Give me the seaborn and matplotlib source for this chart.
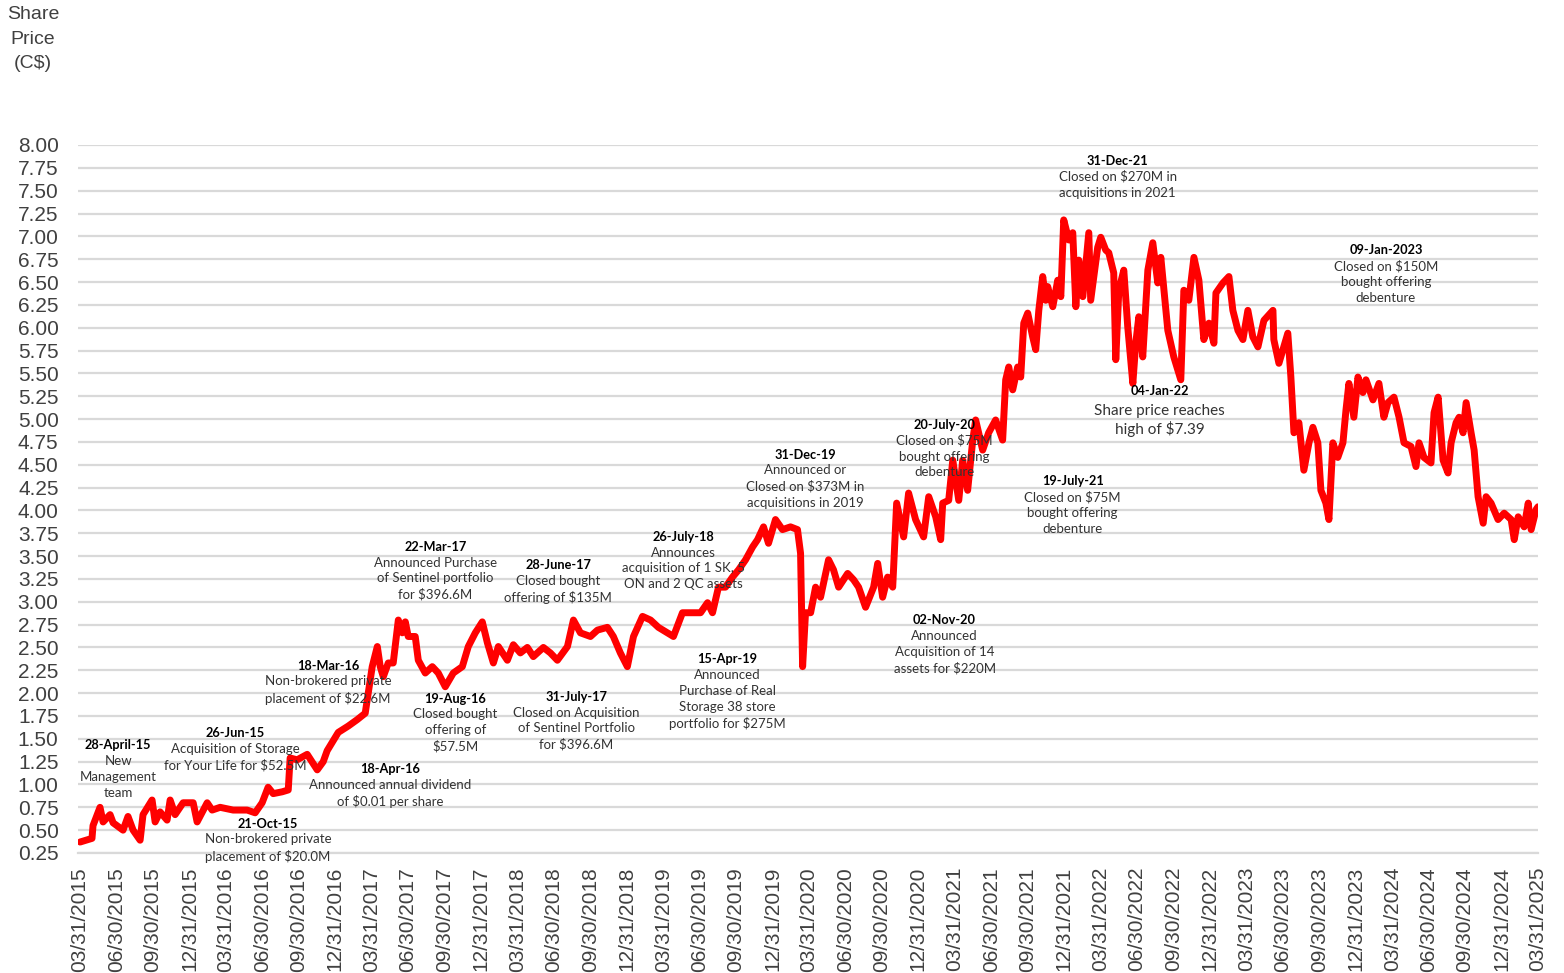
import numpy as np
import pandas as pd
import matplotlib
matplotlib.use("Agg")
import matplotlib.pyplot as plt
import seaborn as sns

# Share price (decimal year, C$)
years = [2015.250, 2015.332, 2015.339, 2015.387, 2015.408, 2015.456, 2015.477, 2015.545, 2015.579, 2015.614,
         2015.662, 2015.682, 2015.744, 2015.765, 2015.799, 2015.847, 2015.868, 2015.902, 2015.957, 2016.026,
         2016.053, 2016.122, 2016.156, 2016.211, 2016.300, 2016.396, 2016.451, 2016.499, 2016.540, 2016.575,
         2016.637, 2016.678, 2016.691, 2016.739, 2016.808, 2016.877, 2016.918, 2016.945, 2017.021, 2017.090,
         2017.151, 2017.206, 2017.227, 2017.254, 2017.289, 2017.309, 2017.330, 2017.364, 2017.398, 2017.433,
         2017.460, 2017.481, 2017.501, 2017.549, 2017.570, 2017.618, 2017.666, 2017.707, 2017.755, 2017.810,
         2017.872, 2017.913, 2017.961, 2018.009, 2018.044, 2018.085, 2018.119, 2018.181, 2018.222, 2018.270,
         2018.318, 2018.359, 2018.428, 2018.476, 2018.524, 2018.593, 2018.634, 2018.682, 2018.751, 2018.799,
         2018.867, 2018.908, 2018.956, 2019.004, 2019.046, 2019.108, 2019.163, 2019.217, 2019.279, 2019.320,
         2019.382, 2019.437, 2019.506, 2019.554, 2019.588, 2019.629, 2019.677, 2019.725, 2019.767, 2019.815,
         2019.863, 2019.897, 2019.938, 2019.972, 2020.020, 2020.068, 2020.123, 2020.171, 2020.192, 2020.206,
         2020.226, 2020.261, 2020.295, 2020.329, 2020.384, 2020.418, 2020.453, 2020.515, 2020.556, 2020.590,
         2020.638, 2020.693, 2020.721, 2020.755, 2020.789, 2020.824, 2020.851, 2020.899, 2020.933, 2020.981,
         2021.036, 2021.071, 2021.119, 2021.153, 2021.167, 2021.208, 2021.236, 2021.277, 2021.304, 2021.338,
         2021.373, 2021.393, 2021.441, 2021.482, 2021.530, 2021.578, 2021.599, 2021.620, 2021.647, 2021.681,
         2021.702, 2021.723, 2021.750, 2021.784, 2021.805, 2021.826, 2021.853, 2021.874, 2021.887, 2021.922,
         2021.956, 2021.977, 2021.997, 2022.032, 2022.059, 2022.080, 2022.100, 2022.128, 2022.169, 2022.182,
         2022.230, 2022.251, 2022.285, 2022.306, 2022.340, 2022.354, 2022.375, 2022.409, 2022.436, 2022.471,
         2022.491, 2022.512, 2022.539, 2022.574, 2022.608, 2022.642, 2022.663, 2022.711, 2022.752, 2022.800,
         2022.821, 2022.855, 2022.890, 2022.924, 2022.958, 2022.993, 2023.027, 2023.041, 2023.089, 2023.130,
         2023.157, 2023.192, 2023.226, 2023.260, 2023.294, 2023.329, 2023.370, 2023.432, 2023.438, 2023.473,
         2023.534, 2023.555, 2023.576, 2023.610, 2023.644, 2023.679, 2023.706, 2023.740, 2023.761, 2023.795,
         2023.816, 2023.843, 2023.877, 2023.912, 2023.933, 2023.953, 2023.987, 2024.015, 2024.049, 2024.070,
         2024.118, 2024.159, 2024.193, 2024.221, 2024.262, 2024.297, 2024.331, 2024.379, 2024.413, 2024.434,
         2024.468, 2024.516, 2024.537, 2024.565, 2024.599, 2024.633, 2024.654, 2024.688, 2024.709, 2024.736,
         2024.757, 2024.791, 2024.812, 2024.839, 2024.874, 2024.894, 2024.928, 2024.976, 2025.018, 2025.066,
         2025.087, 2025.114, 2025.155, 2025.183, 2025.203, 2025.237, 2025.250]
prices = [0.37, 0.41, 0.55, 0.75, 0.59, 0.67, 0.58, 0.50, 0.65, 0.50,
          0.39, 0.67, 0.83, 0.59, 0.70, 0.61, 0.83, 0.67, 0.80, 0.80,
          0.59, 0.80, 0.72, 0.75, 0.72, 0.72, 0.69, 0.80, 0.97, 0.90,
          0.92, 0.94, 1.29, 1.27, 1.33, 1.16, 1.25, 1.37, 1.57, 1.64,
          1.71, 1.78, 2.00, 2.29, 2.51, 2.29, 2.18, 2.33, 2.33, 2.80,
          2.66, 2.78, 2.62, 2.62, 2.36, 2.22, 2.29, 2.22, 2.07, 2.22,
          2.29, 2.51, 2.66, 2.78, 2.55, 2.33, 2.51, 2.36, 2.53, 2.44,
          2.50, 2.40, 2.50, 2.44, 2.36, 2.51, 2.80, 2.66, 2.62, 2.69,
          2.72, 2.62, 2.44, 2.29, 2.62, 2.84, 2.80, 2.72, 2.66, 2.62,
          2.88, 2.88, 2.88, 2.99, 2.88, 3.16, 3.16, 3.27, 3.35, 3.46,
          3.60, 3.68, 3.82, 3.64, 3.90, 3.79, 3.82, 3.79, 3.53, 2.29,
          2.88, 2.88, 3.16, 3.05, 3.46, 3.35, 3.16, 3.31, 3.24, 3.16,
          2.94, 3.16, 3.42, 3.05, 3.27, 3.16, 4.08, 3.71, 4.19, 3.90,
          3.71, 4.15, 3.93, 3.68, 4.08, 4.11, 4.55, 4.11, 4.55, 4.22,
          4.77, 4.99, 4.66, 4.85, 4.99, 4.77, 5.43, 5.57, 5.32, 5.57,
          5.46, 6.05, 6.16, 5.90, 5.76, 6.19, 6.56, 6.30, 6.45, 6.23,
          6.52, 6.34, 7.18, 6.96, 7.04, 6.23, 6.74, 6.34, 7.04, 6.30,
          6.88, 6.99, 6.85, 6.82, 6.60, 5.65, 6.41, 6.63, 6.01, 5.39,
          5.83, 6.12, 5.68, 6.63, 6.93, 6.49, 6.77, 5.97, 5.68, 5.43,
          6.41, 6.30, 6.77, 6.52, 5.87, 6.05, 5.83, 6.38, 6.49, 6.56,
          6.19, 5.97, 5.87, 6.19, 5.90, 5.79, 6.08, 6.19, 5.87, 5.61,
          5.94, 5.46, 4.85, 4.96, 4.44, 4.74, 4.91, 4.74, 4.22, 4.08,
          3.90, 4.74, 4.58, 4.74, 5.10, 5.39, 5.02, 5.46, 5.29, 5.43,
          5.21, 5.39, 5.02, 5.18, 5.24, 5.02, 4.74, 4.70, 4.48, 4.74,
          4.58, 4.52, 5.07, 5.24, 4.55, 4.41, 4.74, 4.96, 5.02, 4.85,
          5.18, 4.85, 4.66, 4.15, 3.86, 4.15, 4.08, 3.90, 3.97, 3.90,
          3.68, 3.93, 3.82, 4.08, 3.79, 4.01, 4.04]

# Event annotations: (year, price at header line, date header, description)
note_years = [2015.511, 2016.314, 2016.540, 2016.952, 2017.378, 2017.687, 2017.824, 2018.531, 2018.654,
              2019.389, 2019.691, 2020.226, 2021.180, 2021.180, 2022.058, 2022.367, 2024.207]
note_prices = [1.43, 1.56, 0.57, 2.30, 1.17, 3.60, 1.94, 3.40, 1.96,
               3.71, 2.37, 4.61, 4.94, 2.80, 4.32, 7.83, 6.85]
note_heads = ["28-April-15", "26-Jun-15", "21-Oct-15", "18-Mar-16", "18-Apr-16", "22-Mar-17", "19-Aug-16",
              "28-June-17", "31-July-17", "26-July-18", "15-Apr-19", "31-Dec-19", "20-July-20", "02-Nov-20",
              "19-July-21", "31-Dec-21", "09-Jan-2023"]
note_bodies = ["New\nManagement\nteam",
               "Acquisition of Storage\nfor Your Life for $52.5M",
               "Non-brokered private\nplacement of $20.0M",
               "Non-brokered private\nplacement of $22.6M",
               "Announced annual dividend\nof $0.01 per share",
               "Announced Purchase\nof Sentinel portfolio\nfor $396.6M",
               "Closed bought\noffering of\n$57.5M",
               "Closed bought\noffering of $135M",
               "Closed on Acquisition\nof Sentinel Portfolio\nfor $396.6M",
               "Announces\nacquisition of 1 SK, 5\nON and 2 QC assets",
               "Announced\nPurchase of Real\nStorage 38 store\nportfolio for $275M",
               "Announced or\nClosed on $373M in\nacquisitions in 2019",
               "Closed on $75M\nbought offering\ndebenture",
               "Announced\nAcquisition of 14\nassets for $220M",
               "Closed on $75M\nbought offering\ndebenture",
               "Closed on $270M in\nacquisitions in 2021",
               "Closed on $150M\nbought offering\ndebenture"]

# the high-price callout uses a larger body font
high_year, high_price = 2022.656, 5.31
high_head = "04-Jan-22"
high_body = "Share price reaches\nhigh of $7.39"

try:
    quarter_labels = list(pd.date_range("2015-03-31", "2025-03-31", freq="QE").strftime("%m/%d/%Y"))
except ValueError:
    quarter_labels = list(pd.date_range("2015-03-31", "2025-03-31", freq="Q").strftime("%m/%d/%Y"))
quarter_pos = 2015.25 + 0.25 * np.arange(len(quarter_labels))
y_ticks = np.arange(0.25, 8.001, 0.25)

sns.set_theme(style="whitegrid")
plt.rcParams['font.family'] = ['Liberation Sans', 'DejaVu Sans']

fig = plt.figure(figsize=(15.64, 9.73), dpi=100)
ax = fig.add_axes([78 / 1564, 1 - 853 / 973, 1460 / 1564, (853 - 145) / 973])

sns.lineplot(x=years, y=prices, ax=ax, color="#ff0000", linewidth=5,
             estimator=None, sort=False, zorder=2)

ax.set_xlim(2015.236, 2025.25)
ax.set_ylim(0.25, 8.0)
ax.set_yticks(y_ticks)
ax.set_yticklabels([f"{v:.2f}" for v in y_ticks])
ax.set_xticks(quarter_pos)
ax.set_xticklabels(quarter_labels, rotation=90)
ax.tick_params(axis="y", length=0, pad=14, labelsize=15, labelcolor="#404040")
ax.tick_params(axis="x", length=0, pad=10, labelsize=15, labelcolor="#404040")
ax.grid(axis="x", visible=False)
ax.grid(axis="y", color="#d9d9d9", linewidth=1.6)
for side in ["left", "right", "top"]:
    ax.spines[side].set_visible(False)
ax.spines["bottom"].set_color("#d9d9d9")
ax.spines["bottom"].set_linewidth(1.6)
ax.set_xlabel("")
ax.set_ylabel("")

note_font = ["Lato", "DejaVu Sans"]
for x, y, head, body in zip(note_years, note_prices, note_heads, note_bodies):
    ax.text(x, y, head, ha="center", va="center", fontsize=9.2, fontweight="bold",
            family=note_font, color="black", zorder=5)
    ax.annotate(body, xy=(x, y), xytext=(0, -7), textcoords="offset points",
                ha="center", va="top", fontsize=9.5, family=note_font,
                color="#333333", linespacing=1.38, zorder=5)

ax.text(high_year, high_price, high_head, ha="center", va="center", fontsize=9.2,
        fontweight="bold", family=note_font, color="black", zorder=5)
ax.annotate(high_body, xy=(high_year, high_price), xytext=(0, -9.5), textcoords="offset points",
            ha="center", va="top", fontsize=11, family=note_font, color="#333333",
            linespacing=1.2, zorder=5)

fig.text(33 / 1564, 1 - 39 / 973, "Share\nPrice\n(C$)", ha="center", va="center",
         fontsize=14, color="#404040", linespacing=1.6)

fig.savefig("out.png", dpi=100)
